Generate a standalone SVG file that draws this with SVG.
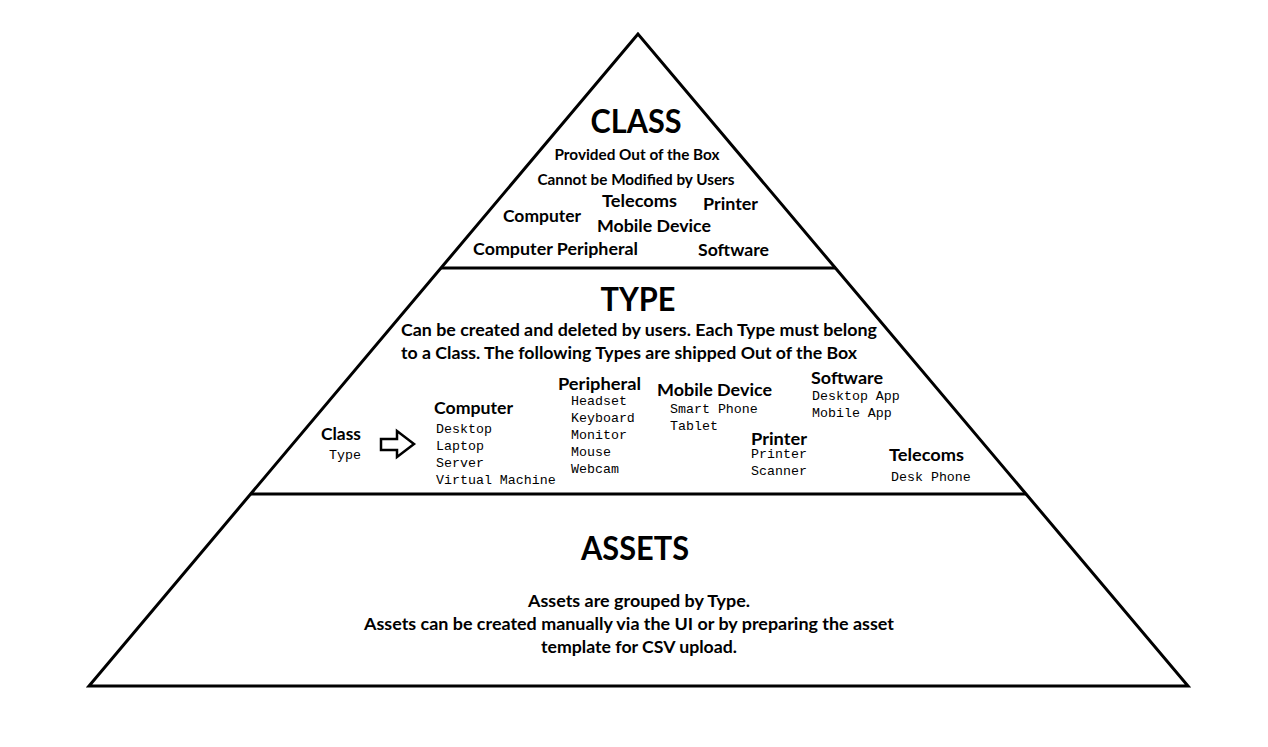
<svg xmlns="http://www.w3.org/2000/svg" width="1268" height="747" viewBox="0 0 1268 747">
  <style>
    .outline { fill: none; stroke: #000; stroke-width: 3; stroke-linejoin: miter; }
    .h1 { font-family: Lato, "Open Sans", sans-serif; font-weight: bold; font-size: 32px; fill: #000; text-anchor: middle; }
    .b { font-family: Lato, "Open Sans", sans-serif; font-weight: bold; font-size: 17.5px; fill: #000; }
    .s { font-family: Lato, "Open Sans", sans-serif; font-weight: bold; font-size: 15px; fill: #000; text-anchor: middle; }
    .m { font-family: "Liberation Mono", "DejaVu Sans Mono", monospace; font-size: 13.3px; fill: #000; }
    .c { text-anchor: middle; }
  </style>
  <rect width="1268" height="747" fill="#fff"/>

  <!-- pyramid outline and tier dividers -->
  <g id="pyramid">
    <polygon class="outline" points="638,34 89,686 1188,686"/>
    <line class="outline" x1="441" y1="268" x2="836" y2="268"/>
    <line class="outline" x1="251" y1="494" x2="1026" y2="494"/>
  </g>

  <!-- top tier: classes -->
  <g id="class-tier">
    <text class="h1" x="636" y="133" textLength="91" lengthAdjust="spacingAndGlyphs">CLASS</text>
    <text class="s" x="637" y="160" textLength="165" lengthAdjust="spacingAndGlyphs">Provided Out of the Box</text>
    <text class="s" x="636" y="185" textLength="197" lengthAdjust="spacingAndGlyphs">Cannot be Modified by Users</text>
    <text class="b" x="602" y="207" textLength="75" lengthAdjust="spacingAndGlyphs">Telecoms</text>
    <text class="b" x="703" y="210" textLength="55" lengthAdjust="spacingAndGlyphs">Printer</text>
    <text class="b" x="503" y="222" textLength="78" lengthAdjust="spacingAndGlyphs">Computer</text>
    <text class="b" x="597" y="232" textLength="114" lengthAdjust="spacingAndGlyphs">Mobile Device</text>
    <text class="b" x="473" y="255" textLength="165" lengthAdjust="spacingAndGlyphs">Computer Peripheral</text>
    <text class="b" x="698" y="256" textLength="71" lengthAdjust="spacingAndGlyphs">Software</text>
  </g>

  <!-- middle tier: types -->
  <g id="type-tier">
    <text class="h1" x="638" y="311" textLength="75" lengthAdjust="spacingAndGlyphs">TYPE</text>
    <text class="b" x="401" y="336" textLength="476" lengthAdjust="spacingAndGlyphs">Can be created and deleted by users. Each Type must belong</text>
    <text class="b" x="401" y="359" textLength="456" lengthAdjust="spacingAndGlyphs">to a Class. The following Types are shipped Out of the Box</text>
  </g>

  <g id="legend">
    <text class="b" x="321" y="440" textLength="40" lengthAdjust="spacingAndGlyphs">Class</text>
    <text class="m" x="329" y="459">Type</text>
  </g>

  <g id="connectors">
    <polygon fill="#fff" stroke="#000" stroke-width="2.5" points="381,439 397,439 397,431 414,444 397,457 397,450 381,450"/>
  </g>

  <g id="type-computer">
    <text class="b" x="434" y="414" textLength="79" lengthAdjust="spacingAndGlyphs">Computer</text>
    <text class="m" x="436" y="433">Desktop</text>
    <text class="m" x="436" y="450">Laptop</text>
    <text class="m" x="436" y="467">Server</text>
    <text class="m" x="436" y="484">Virtual Machine</text>
  </g>

  <g id="type-peripheral">
    <text class="b" x="558" y="390" textLength="83" lengthAdjust="spacingAndGlyphs">Peripheral</text>
    <text class="m" x="571" y="405">Headset</text>
    <text class="m" x="571" y="422">Keyboard</text>
    <text class="m" x="571" y="439">Monitor</text>
    <text class="m" x="571" y="456">Mouse</text>
    <text class="m" x="571" y="473">Webcam</text>
  </g>

  <g id="type-mobile">
    <text class="b" x="657" y="396" textLength="115" lengthAdjust="spacingAndGlyphs">Mobile Device</text>
    <text class="m" x="670" y="413">Smart Phone</text>
    <text class="m" x="670" y="430">Tablet</text>
  </g>

  <g id="type-software">
    <text class="b" x="811" y="384" textLength="72" lengthAdjust="spacingAndGlyphs">Software</text>
    <text class="m" x="812" y="400">Desktop App</text>
    <text class="m" x="812" y="417">Mobile App</text>
  </g>

  <g id="type-printer">
    <text class="b" x="751" y="445" textLength="56" lengthAdjust="spacingAndGlyphs">Printer</text>
    <text class="m" x="751" y="458">Printer</text>
    <text class="m" x="751" y="475">Scanner</text>
  </g>

  <g id="type-telecoms">
    <text class="b" x="889" y="461" textLength="75" lengthAdjust="spacingAndGlyphs">Telecoms</text>
    <text class="m" x="891" y="481">Desk Phone</text>
  </g>

  <!-- bottom tier: assets -->
  <g id="assets-tier">
    <text class="h1" x="635" y="560" textLength="108" lengthAdjust="spacingAndGlyphs">ASSETS</text>
    <text class="b c" x="639" y="607" textLength="222" lengthAdjust="spacingAndGlyphs">Assets are grouped by Type.</text>
    <text class="b c" x="629" y="630" textLength="530" lengthAdjust="spacingAndGlyphs">Assets can be created manually via the UI or by preparing the asset</text>
    <text class="b c" x="639" y="653" textLength="196" lengthAdjust="spacingAndGlyphs">template for CSV upload.</text>
  </g>
</svg>
